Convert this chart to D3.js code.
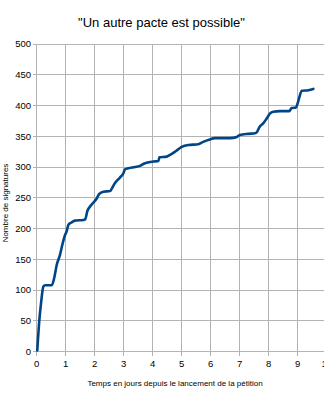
<!DOCTYPE html>
<html><head><meta charset="utf-8">
<script src="https://cdn.jsdelivr.net/npm/d3@7"></script>
<style>
html,body{margin:0;padding:0;background:#fff;overflow:hidden;}
text{font-family:"Liberation Sans",Arial,sans-serif;fill:#000;}
</style></head>
<body>
<script>
const days = [0.02,0.09,0.15,0.23,0.29,0.52,0.6,0.69,0.8,0.88,0.98,1.03,1.09,1.2,1.32,1.61,1.67,1.75,1.84,1.95,2.07,2.15,2.3,2.53,2.59,2.7,2.81,2.87,2.99,3.04,3.16,3.39,3.56,3.68,3.79,4.02,4.2,4.23,4.48,4.6,4.71,4.83,5.0,5.23,5.57,5.74,5.97,6.14,6.32,6.67,6.9,7.0,7.3,7.53,7.61,7.68,7.81,7.93,8.04,8.16,8.39,8.71,8.79,8.94,9.0,9.06,9.14,9.37,9.54];
const signatures = [2,51,79,106,108,108,119,141,157,173,190,195,206,210,213,214,215,229,236,242,249,256,260,261,265,274,280,283,290,296,298,300,302,305,307,309,310,316,317,320,323,327,333,336,337,341,345,347,347,347,349,352,354,355,358,365,371,379,387,390,391,391,396,397,404,414,424,425,427];
const xTicks = [0,1,2,3,4,5,6,7,8,9,10];
const yTicks = [0,50,100,150,200,250,300,350,400,450,500];
const title = '"Un autre pacte est possible"';
const xTitle = "Temps en jours depuis le lancement de la pétition";
const yTitle = "Nombre de signatures";

const W = 324, H = 400;
const svg = d3.select("body").append("svg").attr("width", W).attr("height", H);
const x = d3.scaleLinear().domain([0, 10]).range([36.7, 326.7]);
const y = d3.scaleLinear().domain([0, 500]).range([351.7, 44]);

// grid
svg.append("g").selectAll("line").data(yTicks).join("line")
  .attr("x1", x(0) - 4).attr("x2", x(10))
  .attr("y1", d => y(d)).attr("y2", d => y(d))
  .attr("stroke", "#b3b3b3").attr("stroke-width", 1).attr("shape-rendering", "crispEdges");
svg.append("g").selectAll("line").data(xTicks).join("line")
  .attr("x1", d => x(d)).attr("x2", d => x(d))
  .attr("y1", y(500)).attr("y2", y(0) + 4)
  .attr("stroke", "#b3b3b3").attr("stroke-width", 1).attr("shape-rendering", "crispEdges");

// tick labels
svg.append("g").selectAll("text").data(yTicks).join("text")
  .attr("x", 31).attr("y", d => y(d) + 3.3)
  .attr("text-anchor", "end").attr("font-size", 9.5).text(d => d);
svg.append("g").selectAll("text").data(xTicks).join("text")
  .attr("x", d => x(d)).attr("y", 367)
  .attr("text-anchor", "middle").attr("font-size", 9.5).text(d => d);

// line
const line = d3.line().x((d, i) => x(days[i])).y(d => y(d)).curve(d3.curveMonotoneX);
svg.append("path").datum(signatures).attr("d", line)
  .attr("fill", "none").attr("stroke", "#004586").attr("stroke-width", 2.6)
  .attr("stroke-linejoin", "round").attr("stroke-linecap", "round");

// titles
svg.append("text").attr("x", 161.5).attr("y", 27).attr("text-anchor", "middle")
  .attr("font-size", 13).text(title);
svg.append("text").attr("x", 175).attr("y", 386).attr("text-anchor", "middle")
  .attr("font-size", 8).text(xTitle);
svg.append("text").attr("transform", "translate(8,203) rotate(-90)")
  .attr("text-anchor", "middle").attr("font-size", 8).text(yTitle);
</script>
</body></html>
